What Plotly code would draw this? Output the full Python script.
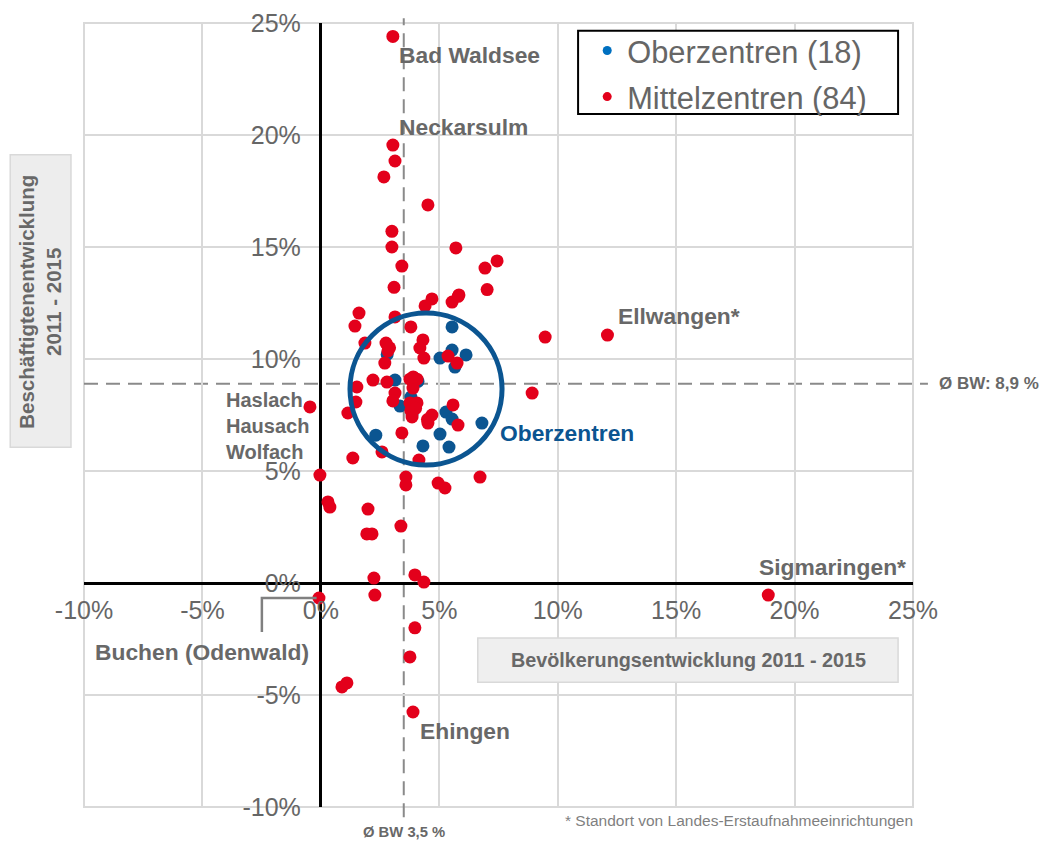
import plotly.graph_objects as go

# ---------------- data ----------------
ober_x = [5.54, 5.54, 6.13, 5.03, 5.66, 3.13, 3.34, 3.85, 5.28, 5.54, 6.80, 5.03, 5.41, 4.31, 2.32, 3.80, 4.10, 2.80]
ober_y = [11.43, 10.40, 10.18, 10.04, 9.64, 9.06, 7.90, 7.54, 7.63, 7.32, 7.14, 6.65, 6.07, 6.12, 6.60, 8.30, 9.00, 10.20]

mittel_x = [3.04, 3.04, 3.13, 2.66, 4.52, 3.00, 3.00, 5.70, 3.42, 7.44,
            6.93, 3.09, 7.02, 4.69, 4.40, 5.83, 5.54, 1.61, 1.44, 3.13,
            3.80, 1.86, 2.75, 2.83, 2.70, 4.31, 4.18, 4.35, 5.37, 5.75,
            9.47, 12.10, 2.20, 2.79, 3.76, 4.06, 3.89, 1.52, 1.48, 1.14,
            3.13, 3.04, 3.76, 4.06, 3.85, 4.69, 4.52, 5.58, 5.79, 8.92,
            -0.46, 3.42, 2.58, 1.35, 4.14, 3.80, -0.04, 3.59, 3.59, 4.95,
            5.24, 6.72, 0.30, 0.38, 1.99, 3.38, 1.94, 2.16, 2.24, 3.97,
            4.35, -0.08, 2.28, 3.97, 3.76, 0.89, 1.10, 3.89, 18.89, 3.90,
            2.90, 4.50, 5.80, 4.00]
mittel_y = [24.40, 19.55, 18.84, 18.13, 16.88, 15.70, 15.00, 14.96, 14.15, 14.38,
            14.06, 13.20, 13.10, 12.68, 12.37, 12.86, 12.54, 12.05, 11.47, 11.88,
            11.43, 10.71, 10.71, 10.36, 9.82, 10.85, 10.49, 10.04, 10.13, 9.82,
            10.98, 11.07, 9.06, 8.97, 9.10, 9.10, 8.70, 8.75, 8.08, 7.59,
            8.48, 8.13, 8.04, 8.04, 7.41, 7.50, 7.14, 7.95, 7.05, 8.48,
            7.86, 6.70, 5.85, 5.58, 5.49, 7.70, 4.82, 4.73, 4.38, 4.46,
            4.24, 4.73, 3.62, 3.39, 3.30, 2.54, 2.19, 2.19, 0.22, 0.36,
            0.04, -0.67, -0.54, -2.00, -3.30, -4.64, -4.46, -5.76, -0.54, 9.20,
            10.50, 7.30, 12.80, 7.80]

avg_pop = 3.5      # Ø BW Bevölkerung
avg_emp = 8.9      # Ø BW Beschäftigte

x_ticks = [-10, -5, 0, 5, 10, 15, 20, 25]
x_ticktext = ["-10%", "-5%", "0%", "5%", "10%", "15%", "20%", "25%"]
y_ticks = [-10, -5, 0, 5, 10, 15, 20, 25]
y_ticktext = ["-10%", "-5%", "0%", "5%", "10%", "15%", "20%", "25%"]

circle_center = (4.44, 8.66)
circle_radius = (3.21, 3.39)

city_labels = [
    # text, x, y, xanchor
    ("Bad Waldsee", 3.2, 23.57, "left"),
    ("Neckarsulm", 3.2, 20.36, "left"),
    ("Ellwangen*", 12.47, 11.92, "left"),
    ("Sigmaringen*", 24.77, 0.71, "right"),
    ("Ehingen", 4.1, -6.61, "left"),
    ("Buchen (Odenwald)", -0.42, -3.08, "right"),
]

RED = "#e3001b"
BLUE = "#0b5591"
GREY_TXT = "#686868"
FONT = "Liberation Sans, Arial, sans-serif"

fig = go.Figure()

fig.add_trace(go.Scatter(x=ober_x, y=ober_y, mode="markers",
                         marker=dict(size=13, color=BLUE, line=dict(width=0)),
                         showlegend=False, hoverinfo="skip"))
fig.add_trace(go.Scatter(x=mittel_x, y=mittel_y, mode="markers",
                         marker=dict(size=13, color=RED, line=dict(width=0)),
                         showlegend=False, hoverinfo="skip"))
# legend entries
fig.add_trace(go.Scatter(x=[None], y=[None], mode="markers",
                         marker=dict(size=9, color="#0070c0"),
                         name="Oberzentren (18)", legendgroup="a"))
fig.add_trace(go.Scatter(x=[None], y=[None], mode="markers",
                         marker=dict(size=9, color=RED),
                         name="Mittelzentren (84)", legendgroup="b"))

shapes = []
# plot-area frame (outer grid lines)
shapes.append(dict(type="rect", xref="paper", yref="paper", x0=0, x1=1, y0=0, y1=1,
                   line=dict(color="#d9d9d9", width=2), layer="below"))
# average lines
shapes.append(dict(type="line", xref="x", yref="paper", x0=avg_pop, x1=avg_pop, y0=-0.013, y1=1.006,
                   line=dict(color="#8a8a8a", width=2, dash="14px,8px"), layer="below"))
shapes.append(dict(type="line", xref="paper", yref="y", x0=0, x1=1.018, y0=avg_emp, y1=avg_emp,
                   line=dict(color="#8a8a8a", width=2, dash="14px,8px"), layer="below"))
# circle around Oberzentren
shapes.append(dict(type="circle", xref="x", yref="y",
                   x0=circle_center[0] - circle_radius[0], x1=circle_center[0] + circle_radius[0],
                   y0=circle_center[1] - circle_radius[1], y1=circle_center[1] + circle_radius[1],
                   line=dict(color=BLUE, width=5), layer="above"))
# leader line for Buchen
bx, by = mittel_x[71], mittel_y[71]
shapes.append(dict(type="path", xref="x", yref="y",
                   path=f"M -2.49,-2.19 L -2.49,{by} L {bx - 0.1},{by}",
                   line=dict(color="#808080", width=2.5)))
# axis-title boxes
shapes.append(dict(type="rect", xref="paper", yref="paper", x0=-0.089, x1=-0.0157, y0=0.459, y1=0.832,
                   fillcolor="#ededed", line=dict(color="#d9d9d9", width=1.5)))
shapes.append(dict(type="rect", xref="paper", yref="paper", x0=0.475, x1=0.982, y0=0.159, y1=0.2156,
                   fillcolor="#efefef", line=dict(color="#d9d9d9", width=1.5)))
# legend frame
shapes.append(dict(type="rect", xref="paper", yref="paper", x0=0.596, x1=0.982, y0=0.884, y1=0.990,
                   fillcolor="white", line=dict(color="black", width=2), layer="above"))

LBL = 22.8
annotations = []
for text, x, y, xa in city_labels:
    annotations.append(dict(text=f"<b>{text}</b>", x=x, y=y, xref="x", yref="y", xanchor=xa,
                            yanchor="middle", showarrow=False,
                            font=dict(family=FONT, size=LBL, color=GREY_TXT)))
annotations.append(dict(text="<b>Haslach<br>Hausach<br>Wolfach</b>", x=-0.42, y=7.0, xref="x", yref="y",
                        xanchor="right", yanchor="middle", align="left", showarrow=False,
                        font=dict(family=FONT, size=20, color=GREY_TXT)))
annotations.append(dict(text="<b>Oberzentren</b>", x=7.48, y=6.70, xref="x", yref="y",
                        xanchor="left", yanchor="middle", showarrow=False,
                        font=dict(family=FONT, size=LBL, color=BLUE)))
annotations.append(dict(text="<b>Ø BW: 8,9 %</b>", x=1.029, y=avg_emp, xref="paper", yref="y",
                        xanchor="left", yanchor="middle", showarrow=False,
                        font=dict(family=FONT, size=17, color=GREY_TXT)))
annotations.append(dict(text="<b>Ø BW 3,5 %</b>", x=avg_pop, y=-0.032, xref="x", yref="paper",
                        xanchor="center", yanchor="middle", showarrow=False,
                        font=dict(family=FONT, size=14.8, color=GREY_TXT)))
annotations.append(dict(text="* Standort von Landes-Erstaufnahmeeinrichtungen", x=1.0024, y=-0.0166,
                        xref="paper", yref="paper", xanchor="right", yanchor="middle", showarrow=False,
                        font=dict(family=FONT, size=15.5, color="#7f7f7f")))
annotations.append(dict(text="<b>Beschäftigtenentwicklung<br>2011 - 2015</b>", x=-0.0525, y=0.645,
                        xref="paper", yref="paper", textangle=-90, showarrow=False,
                        xanchor="center", yanchor="middle",
                        font=dict(family=FONT, size=20.5, color=GREY_TXT)))
annotations.append(dict(text="<b>Bevölkerungsentwicklung 2011 - 2015</b>", x=0.7286, y=0.1875,
                        xref="paper", yref="paper", showarrow=False, xanchor="center", yanchor="middle",
                        font=dict(family=FONT, size=19.8, color=GREY_TXT)))

zero_pos_y = (0 - y_ticks[0]) / (y_ticks[-1] - y_ticks[0])
zero_pos_x = (0 - x_ticks[0]) / (x_ticks[-1] - x_ticks[0])

fig.update_layout(
    width=1045, height=842,
    margin=dict(l=84, r=132, t=23, b=35),
    paper_bgcolor="white", plot_bgcolor="white",
    font=dict(family=FONT, color="#666666"),
    xaxis=dict(range=[x_ticks[0], x_ticks[-1]], tickvals=x_ticks, ticktext=x_ticktext,
               showgrid=True, gridcolor="#d9d9d9", gridwidth=2,
               zeroline=True, zerolinecolor="black", zerolinewidth=3,
               anchor="free", position=zero_pos_y, ticks="", ticklabelstandoff=10,
               tickfont=dict(family=FONT, size=25, color="#666666"), showline=False,
               automargin=False),
    yaxis=dict(range=[y_ticks[0], y_ticks[-1]], tickvals=y_ticks, ticktext=y_ticktext,
               showgrid=True, gridcolor="#d9d9d9", gridwidth=2,
               zeroline=True, zerolinecolor="black", zerolinewidth=3,
               anchor="free", position=zero_pos_x, ticks="", ticklabelstandoff=20,
               tickfont=dict(family=FONT, size=25, color="#666666"), showline=False,
               automargin=False),
    legend=dict(x=0.607, y=0.9987, xanchor="left", yanchor="top",
                bgcolor="rgba(0,0,0,0)", borderwidth=0,
                font=dict(family=FONT, size=30.8, color="#666666"), tracegroupgap=3),
    shapes=shapes, annotations=annotations,
)

fig.write_html("out.html", config={"displayModeBar": False},
               post_script="document.body.style.margin='0px'; document.body.style.overflow='hidden';")
